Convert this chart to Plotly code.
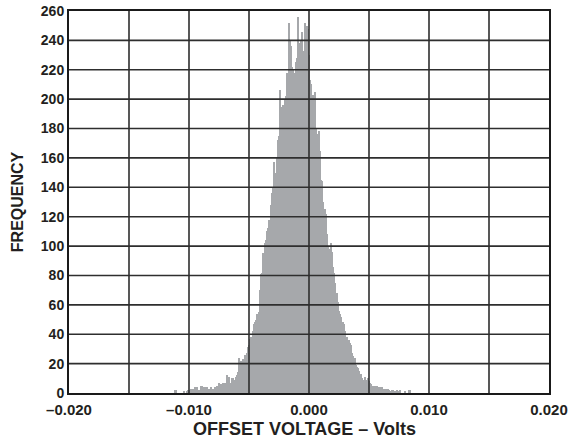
import plotly.graph_objects as go

# histogram bins, 0.1 mV wide, first bin centre at -11.2 mV
bin_start = -0.0112
bin_width = 0.0001
counts = [
    2, 2, 0, 0, 0, 0, 0, 0, 1, 0,
    1, 2, 2, 2, 3, 3, 2, 4, 3, 4,
    2, 1, 5, 5, 4, 4, 3, 4, 3, 3,
    4, 2, 3, 3, 4, 5, 5, 7, 6, 6,
    7, 6, 7, 6, 12, 11, 6, 7, 10, 10,
    9, 11, 12, 14, 24, 22, 20, 23, 22, 26,
    27, 31, 33, 37, 38, 42, 47, 48, 50, 54,
    55, 70, 81, 82, 95, 102, 104, 110, 112, 118,
    128, 136, 140, 157, 150, 160, 172, 175, 206, 195,
    196, 190, 200, 202, 218, 252, 240, 236, 222, 220,
    218, 225, 228, 256, 238, 240, 246, 228, 233, 252,
    250, 248, 230, 213, 210, 203, 200, 205, 180, 176,
    178, 165, 145, 144, 130, 125, 122, 108, 100, 98,
    102, 96, 86, 82, 75, 68, 62, 56, 54, 52,
    48, 47, 42, 38, 38, 36, 34, 33, 27, 25,
    24, 19, 18, 17, 15, 13, 10, 8, 9, 11,
    9, 10, 8, 7, 6, 5, 5, 5, 4, 5,
    4, 4, 3, 4, 3, 3, 3, 2, 3, 2,
    1, 2, 2, 0, 1, 2, 0, 1, 2, 0,
    0, 0, 1, 0, 0, 2, 2, 0,
]
offset_voltage = [round(bin_start + i * bin_width, 5) for i in range(len(counts))]

x_grid = [-0.015, -0.010, -0.005, 0.0, 0.005, 0.010, 0.015]
x_ticks = [-0.020, -0.010, 0.0, 0.010, 0.020]
x_labels = ["\u20130.020", "\u20130.010", "0.000", "0.010", "0.020"]
y_ticks = list(range(0, 261, 20))

fig = go.Figure()
fig.add_trace(go.Bar(
    x=offset_voltage,
    y=counts,
    width=bin_width,
    marker=dict(color="#a6a8ab", line=dict(width=0)),
))

# grid sits on top of the bars in the original
grid = dict(color="#2e2e2e", width=1.6)
shapes = []
for gx in x_grid:
    shapes.append(dict(type="line", xref="x", yref="paper", x0=gx, x1=gx, y0=0, y1=1,
                       line=grid, layer="above"))
for gy in y_ticks[1:-1]:
    shapes.append(dict(type="line", xref="paper", yref="y", x0=0, x1=1, y0=gy, y1=gy,
                       line=grid, layer="above"))

font_family = "Liberation Sans, Arial, Helvetica, sans-serif"

# axis titles as annotations so the margins stay put
annotations = [
    dict(text="OFFSET VOLTAGE \u2013 Volts", xref="paper", yref="paper", x=0.49, y=-0.094,
         xanchor="center", yanchor="middle", showarrow=False,
         font=dict(size=18, weight="bold")),
    dict(text="FREQUENCY", xref="paper", yref="paper", x=-0.108, y=0.5, textangle=-90,
         xanchor="center", yanchor="middle", showarrow=False,
         font=dict(size=16, weight="bold")),
]

fig.update_layout(
    width=581, height=444,
    margin=dict(l=69, r=32, t=11, b=51),
    paper_bgcolor="white", plot_bgcolor="white",
    font=dict(family=font_family, size=15, color="#231f20", weight="bold"),
    showlegend=False,
    bargap=0,
    shapes=shapes,
    annotations=annotations,
    xaxis=dict(
        range=[-0.020, 0.020],
        tickvals=x_ticks, ticktext=x_labels,
        ticks="", showgrid=False, zeroline=False, automargin=False,
        showline=True, mirror=True, linecolor="#1a1a1a", linewidth=2,
        tickfont=dict(size=15, weight="bold"), ticklabeloverflow="allow",
        ticklabelstandoff=2,
    ),
    yaxis=dict(
        range=[0, 260],
        tickvals=y_ticks,
        ticks="", showgrid=False, zeroline=False, automargin=False,
        showline=True, mirror=True, linecolor="#1a1a1a", linewidth=2,
        tickfont=dict(size=14, weight="bold"), ticklabeloverflow="allow",
    ),
)

# drop the default 8px page margin so the figure fills the window exactly
fig.write_html("out.html", config={"displayModeBar": False},
               post_script="document.body.style.margin='0';")
